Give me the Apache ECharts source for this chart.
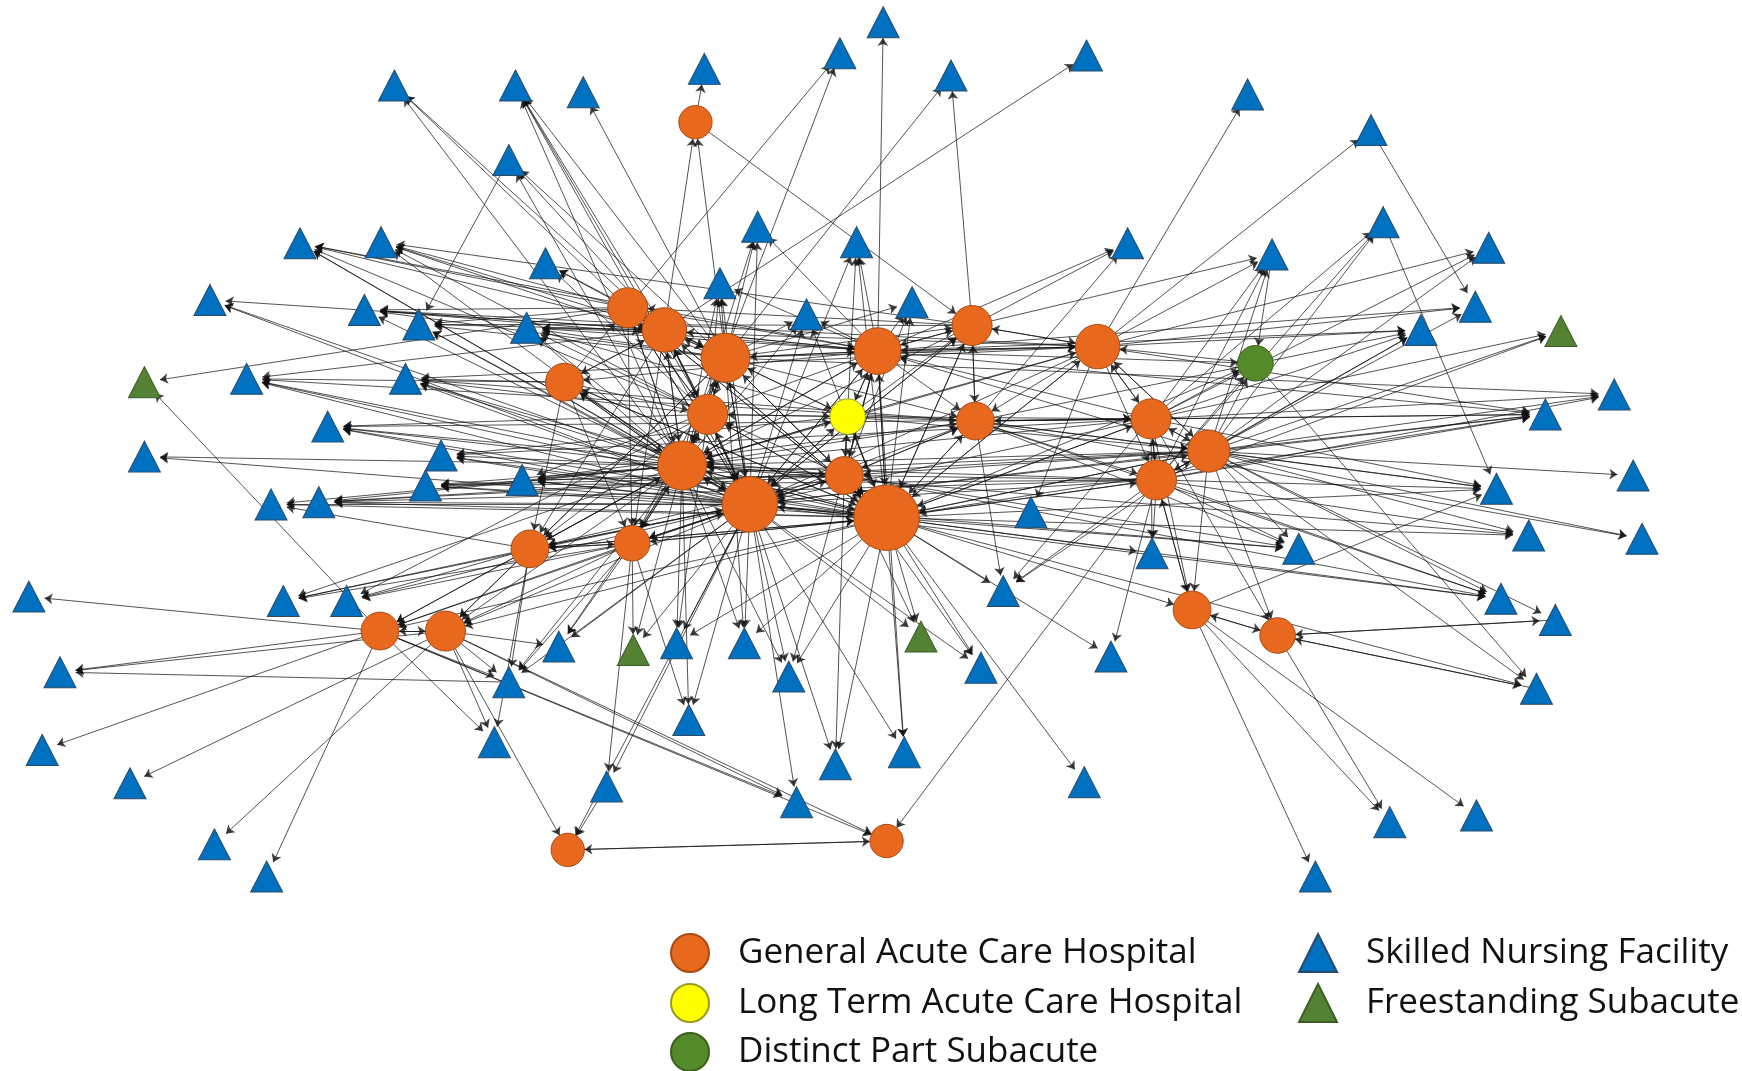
<!DOCTYPE html>
<html><head><meta charset="utf-8">
<script src="https://cdn.jsdelivr.net/npm/echarts@6/dist/echarts.min.js"></script>
<style>html,body{margin:0;padding:0;background:#fff}#c{width:1742px;height:1071px}</style>
</head><body><div id="c"></div>
<script>
// Category names (legend)
const categoryNames = ['General Acute Care Hospital','Long Term Acute Care Hospital','Distinct Part Subacute','Skilled Nursing Facility','Freestanding Subacute'];

// Node layout coordinates (layout space 1568 x 964) and weight (node radius value)
const generalAcute = [
['H1',626,110,15],['H2',565,277,18],['H3',598,297,20],['H4',653,322,22],['H5',790,316,21],
['H6',875,293,18],['H7',988,312,20],['H8',508,344,17],['H9',637,373,18],['H10',878,379,17],
['H11',1036,377,18],['H12',1088,406,19],['H13',614,419,22],['H14',760,428,17],['H15',1041,432,18],
['H16',675,454,25],['H17',798,466,29.5],['H18',477,494,17],['H19',569,489,16],['H20',1073,549,17],
['H21',1150,572,16],['H22',342,568,17],['H23',401,568,18],['H24',511,765,15],['H25',798,757,15]
];
const longTermAcute = [['L1',763,375,16]];
const distinctPart = [['D1',1130,327,16]];
const skilledNursing = [
['T1',795,20],['T2',756,48],['T3',634,62],['T4',978,50],['T5',856,68],['T6',355,77],['T7',464,77],['T8',525,83],
['T9',1123,85],['T10',1234,117],['T11',458,144],['T12',682,204],['T13',771,218],['T14',1015,219],['T15',1245,200],
['T16',1145,229],['T17',1340,223],['T18',270,219],['T19',343,218],['T20',491,237],['T21',189,270],['T22',328,279],
['T23',648,255],['T24',726,283],['T25',821,272],['T26',1328,276],['T27',1279,297],['T28',377,292],['T29',474,295],
['T30',222,341],['T31',365,341],['T32',1453,355],['T33',1391,373],['T34',295,384],['T35',397,410],['T36',130,411],
['T37',470,432],['T38',383,437],['T39',244,454],['T40',287,452],['T41',1470,428],['T42',1347,440],['T43',928,461],
['T44',1478,485],['T45',1376,482],['T46',1037,498],['T47',1169,494],['T48',903,532],['T49',1351,539],['T50',1400,558],
['T51',26,537],['T52',255,541],['T53',312,541],['T54',503,582],['T55',609,579],['T56',670,579],['T57',710,609],
['T58',883,601],['T59',1000,591],['T60',458,614],['T61',54,605],['T62',1383,620],['T63',620,648],['T64',445,668],
['T65',38,675],['T66',752,688],['T67',814,677],['T68',117,705],['T69',546,708],['T70',976,704],['T71',717,722],
['T72',1251,740],['T73',1329,734],['T74',193,760],['T75',240,789],['T76',1184,789]
];
const freestandingSubacute = [['F1',130,344],['F2',1405,298],['F3',570,585],['F4',829,573]];

// Directed transfers: [source, [targets]]
const transfers = [
['H1',['T3','H6']],
['H2',['T2','T6','T18','T19','T20','T22','T28','H3','H4','H13','H16','H17','H5','H9','H19','F1']],
['H3',['T4','T6','T7','T11','T18','T19','T21','T22','T28','T29','T30','H1','H2','H4','H13','H16','H17','H9','H5','H8','H19','H18']],
['H4',['T5','T7','T8','T11','T12','T19','T20','T22','T23','T24','T25','T28','T29','T56','T32','H1','H2','H3','H5','H9','H13','H16','H17','L1','H14','H6','H10','H7','H23','H18','H19']],
['H5',['T1','T12','T13','T14','T18','T22','T23','T24','T25','T26','T27','T29','T37','T57','T67','T33','D1','H3','H4','H6','H13','H16','H17','L1','H14','H10','H8','H7']],
['H6',['T5','T14','T16','T19','T28','H5','H17','H10','H7','H13','H16','H2']],
['H7',['T9','T10','T16','T17','T22','T26','T27','T29','T33','T43','T31','H6','H11','H12','H15','H5','H17','H16','H13','H10']],
['H8',['T30','T31','H13','H16','H17','H9','H2','H3','H18','H19']],
['H9',['T7','T18','T19','T20','T23','T29','T31','T34','T53','T55','H3','H4','H13','H16','H17','L1','H2','H18','H19']],
['H10',['T14','T27','T30','T31','T33','T42','T44','T48','T37','T47','T49','H6','H11','H12','H15','H14','H17']],
['H11',['T15','T16','T17','T27','T32','T33','T34','T42','T46','T48','T35','F2','D1','H7','H10','H12','H15','H5','H13','H16','H17','H20','H21']],
['H12',['T15','T16','T17','T26','T27','T32','T33','T41','T42','T44','T45','T47','T48','T49','T50','T62','F2','T38','T40','D1','H7','H11','H15','H5','H16','H13','H14','H17','H20','H21']],
['H13',['T2','T6','T7','T11','T12','T18','T19','T21','T22','T23','T24','T28','T29','T30','T31','T34','T35','T36','T37','T38','T39','T40','T45','T52','T54','T55','T56','T57','T60','T63','F3','H2','H3','H4','H5','H8','H9','H16','H17','H14','L1','H18','H19','H10','H22','H23']],
['H14',['T13','T25','T34','T37','T38','T40','T47','T49','T58','T66','H13','H16','H17','L1','H10','H5','H9','H19','H18','F4']],
['H15',['T15','T16','T27','T32','T33','T38','T40','T42','T45','T46','T47','T48','T49','T59','F2','D1','H11','H12','H16','H13','H14','H17','H20','H25']],
['H16',['T7','T12','T13','T18','T21','T23','T24','T28','T29','T30','T31','T33','T34','T35','T36','T37','T38','T39','T40','T47','T49','T52','T53','T54','T55','T56','T57','T58','T60','T63','T66','T67','T69','T71','F3','F4','H2','H3','H4','H5','H8','H9','H13','H17','H14','L1','H18','H19','H10','H6','H22','H23','H24']],
['H17',['T13','T24','T25','T30','T31','T33','T34','T35','T37','T38','T39','T40','T42','T45','T46','T47','T48','T49','T55','T56','T57','T58','T59','T62','T66','T67','T70','F4','D1','H2','H3','H4','H5','H8','H9','H13','H16','H14','L1','H10','H6','H18','H19','H11','H12','H15','H20','H22','H23','H7']],
['H18',['T39','T52','T53','T60','T64','H13','H16','H17','H19','H22','H23']],
['H19',['T52','T53','T54','T60','T63','T69','F3','H13','H16','H17','H18','H22','H23']],
['H20',['T42','T72','T73','T76','H15','H21']],
['H21',['T50','T62','T72','H20']],
['H22',['T51','T61','T64','T65','T71','T60','T75','F1','H23','H25']],
['H23',['T54','T60','T61','T64','T68','T71','T74','H22','H24','H25']],
['H24',['H25']],
['H25',['H24']],
['L1',['T29','T35','H4','H5','H16','H17','H14','H10','H9','H13','H6','H11','H12','H7']],
['D1',['T62','H7']],
['T10',['T26']],
['T11',['T28']],
['T15',['T42']],
['T16',['D1']],
['T60',['T61']],
['T50',['H21']],
['T62',['H21']],
['T69',['H24']]
];

const K = 1742 / 1568;
const styles = [
  {color:'#E8691E', borderColor:'#A94A14', borderWidth:1},
  {color:'#FFFF00', borderColor:'#9A9A20', borderWidth:1},
  {color:'#548A2A', borderColor:'#3B5F1D', borderWidth:1},
  {color:'#0070C0', borderColor:'#2A4A66', borderWidth:1},
  {color:'#548235', borderColor:'#3B5E25', borderWidth:1}
];
const nodes = [];
function addCircles(list, cat){ list.forEach(([id,x,y,r]) => nodes.push({name:id, value:[x,y], category:cat, symbol:'circle', symbolSize:2*r*K, itemStyle:styles[cat]})); }
function addTriangles(list, cat){ list.forEach(([id,x,y]) => nodes.push({name:id, value:[x,y], category:cat, symbol:'triangle', symbolSize:[32,31], itemStyle:styles[cat]})); }
addCircles(generalAcute,0); addCircles(longTermAcute,1); addCircles(distinctPart,2);
addTriangles(skilledNursing,3); addTriangles(freestandingSubacute,4);
const links = [];
transfers.forEach(([s, ts]) => ts.forEach(t => links.push({source:s, target:t})));

const categories = categoryNames.map((n,i) => ({name:n, symbol: i < 3 ? 'circle' : 'triangle', itemStyle: styles[i]}));

const legendText = {fontFamily:'Open Sans', fontSize:35, color:'#111', padding:[0,0,0,24]};
function legendBlock(left, top, idx){
  return {orient:'vertical', left:left, top:top, padding:0, itemWidth:38, itemHeight:38, itemGap:12, textStyle:legendText,
    data: idx.map(i => ({name:categoryNames[i], icon: i < 3 ? 'circle' : 'triangle'}))};
}
const chart = echarts.init(document.getElementById('c'), null, {renderer:'canvas'});
chart.setOption({
  animation:false,
  backgroundColor:'#fff',
  grid:{left:0,right:0,top:0,bottom:0},
  xAxis:{type:'value',min:0,max:1568,show:false},
  yAxis:{type:'value',min:0,max:964,inverse:true,show:false},
  legend:[
    legendBlock(670, 933, [0]),
    legendBlock(670, 983, [1]),
    legendBlock(670, 1032, [2]),
    legendBlock(1298, 933, [3]),
    legendBlock(1298, 983, [4])
  ],
  series:[{
    type:'graph', coordinateSystem:'cartesian2d', layout:'none',
    data:nodes, links:links, categories:categories,
    edgeSymbol:['none','arrow'], edgeSymbolSize:[0,8],
    lineStyle:{color:'#111', width:0.9, opacity:0.8, curveness:0},
    label:{show:false}, emphasis:{disabled:true}, silent:true
  }]
});
</script></body></html>
